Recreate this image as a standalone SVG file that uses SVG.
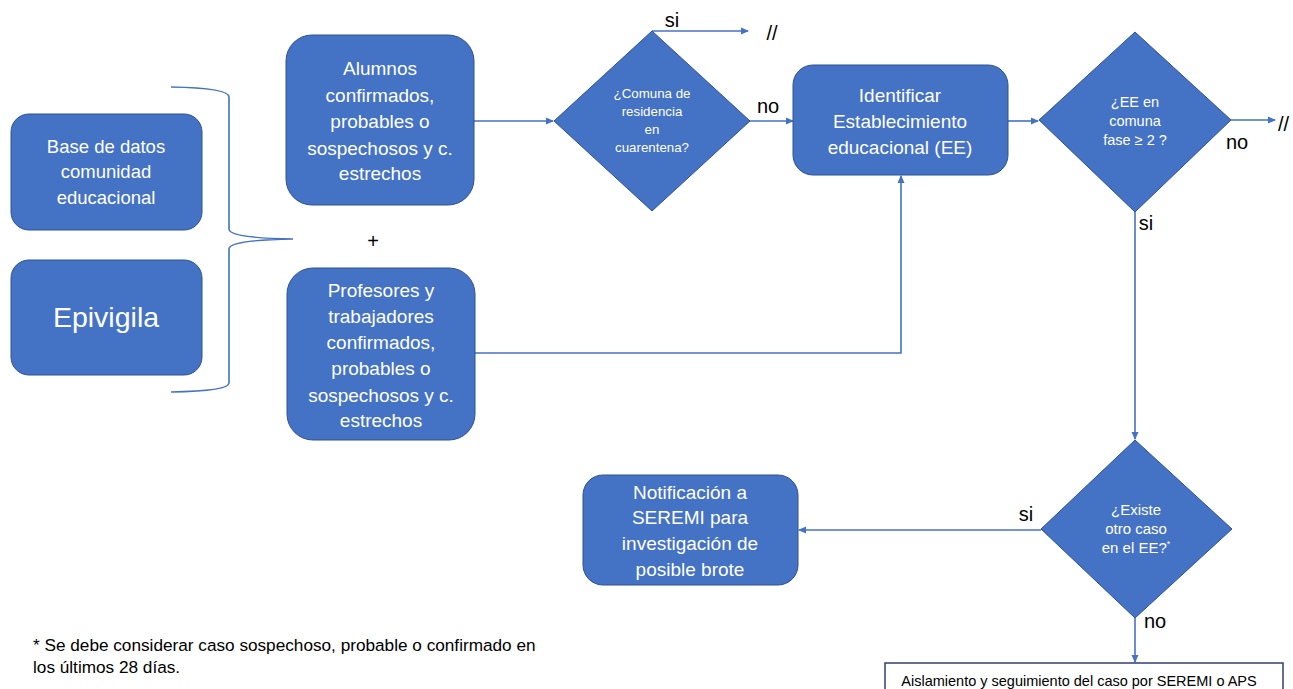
<svg xmlns="http://www.w3.org/2000/svg" width="1293" height="689" viewBox="0 0 1293 689">
<defs>
<style>
.box{fill:#4472c4;stroke:#2f528f;stroke-width:1}
.bt{font-family:"Liberation Sans",Arial,sans-serif;fill:#fff;text-anchor:middle}
.lbl{font-family:"Liberation Sans",Arial,sans-serif;fill:#000;font-size:20px}
.con{fill:none;stroke:#4472c4;stroke-width:1.6}
.note{font-family:"Liberation Sans",Arial,sans-serif;fill:#000;font-size:17.2px}
</style>
<marker id="ah" markerWidth="8" markerHeight="8" refX="7" refY="4" orient="auto" markerUnits="userSpaceOnUse">
<path d="M0,0.5 L8,4 L0,7.5 Z" fill="#4472c4"/>
</marker>
</defs>
<rect width="1293" height="689" fill="#fff"/>

<g id="connectors">
<path class="con" d="M171,87 Q229,88 229,97 V229 Q229,238 293,239 Q229,240 229,249 V383 Q229,391 171,392"/>
<path class="con" d="M474,121 H553" marker-end="url(#ah)"/>
<path class="con" d="M652,31 H748" marker-end="url(#ah)"/>
<path class="con" d="M750,121 H793" marker-end="url(#ah)"/>
<path class="con" d="M475,353 H901 V176" marker-end="url(#ah)"/>
<path class="con" d="M1008,121 H1038" marker-end="url(#ah)"/>
<path class="con" d="M1231,120 H1275" marker-end="url(#ah)"/>
<path class="con" d="M1135,212 V439" marker-end="url(#ah)"/>
<path class="con" d="M1041,530 H799" marker-end="url(#ah)"/>
<path class="con" d="M1135,618 V662" marker-end="url(#ah)"/>
</g>

<g id="labels">
<text class="lbl" x="672" y="20" dy="0.35em" text-anchor="middle">si</text>
<text class="lbl" x="772" y="33" dy="0.35em" text-anchor="middle" font-size="23">//</text>
<text class="lbl" x="768" y="106" dy="0.35em" text-anchor="middle">no</text>
<text class="lbl" x="1237" y="142" dy="0.35em" text-anchor="middle">no</text>
<text class="lbl" x="1278" y="124" dy="0.35em" font-size="23">//</text>
<text class="lbl" x="1146" y="223" dy="0.35em" text-anchor="middle">si</text>
<text class="lbl" x="1026" y="514" dy="0.35em" text-anchor="middle">si</text>
<text class="lbl" x="1155" y="621" dy="0.35em" text-anchor="middle">no</text>
<text class="lbl" x="373" y="241" dy="0.35em" text-anchor="middle" font-size="16">+</text>
</g>

<g id="base-datos">
<rect class="box" x="11" y="114" width="191" height="116" rx="18"/>
<text class="bt" font-size="18.5"><tspan x="106" y="147" dy="0.35em">Base de datos</tspan><tspan x="106" y="172" dy="0.35em">comunidad</tspan><tspan x="106" y="198" dy="0.35em">educacional</tspan></text>
</g>

<g id="epivigila">
<rect class="box" x="11" y="260" width="191" height="115" rx="18"/>
<text class="bt" font-size="28.5" x="106" y="317" dy="0.35em">Epivigila</text>
</g>

<g id="alumnos">
<rect class="box" x="286" y="35" width="188" height="170" rx="26"/>
<text class="bt" font-size="19"><tspan x="380" y="68" dy="0.35em">Alumnos</tspan><tspan x="380" y="95" dy="0.35em">confirmados,</tspan><tspan x="380" y="121" dy="0.35em">probables o</tspan><tspan x="380" y="148" dy="0.35em">sospechosos y c.</tspan><tspan x="380" y="173" dy="0.35em">estrechos</tspan></text>
</g>

<g id="profesores">
<rect class="box" x="287" y="268" width="188" height="172" rx="26"/>
<text class="bt" font-size="19"><tspan x="381" y="290" dy="0.35em">Profesores y</tspan><tspan x="381" y="316" dy="0.35em">trabajadores</tspan><tspan x="381" y="342" dy="0.35em">confirmados,</tspan><tspan x="381" y="368" dy="0.35em">probables o</tspan><tspan x="381" y="395" dy="0.35em">sospechosos y c.</tspan><tspan x="381" y="420" dy="0.35em">estrechos</tspan></text>
</g>

<g id="diamond-cuarentena">
<polygon class="box" points="652,31 750,121 652,211 554,121"/>
<text class="bt" font-size="13.3"><tspan x="652" y="93" dy="0.35em">¿Comuna de</tspan><tspan x="652" y="111" dy="0.35em">residencia</tspan><tspan x="652" y="129" dy="0.35em">en</tspan><tspan x="652" y="147" dy="0.35em">cuarentena?</tspan></text>
</g>

<g id="identificar">
<rect class="box" x="793" y="65" width="215" height="110" rx="20"/>
<text class="bt" font-size="19"><tspan x="900" y="95" dy="0.35em">Identificar</tspan><tspan x="900" y="121" dy="0.35em">Establecimiento</tspan><tspan x="900" y="147" dy="0.35em">educacional (EE)</tspan></text>
</g>

<g id="diamond-fase">
<polygon class="box" points="1135,32 1231,120 1135,212 1039,120"/>
<text class="bt" font-size="14.5"><tspan x="1135" y="102" dy="0.35em">¿EE en</tspan><tspan x="1135" y="121" dy="0.35em">comuna</tspan><tspan x="1135" y="140" dy="0.35em">fase ≥ 2 ?</tspan></text>
</g>

<g id="diamond-otro-caso">
<polygon class="box" points="1135,440 1232,529 1135,618 1041,529"/>
<text class="bt" font-size="15"><tspan x="1136" y="510" dy="0.35em">¿Existe</tspan><tspan x="1136" y="529" dy="0.35em">otro caso</tspan><tspan x="1136" y="548" dy="0.35em">en el EE?<tspan font-size="9" dy="-6">*</tspan></tspan></text>
</g>

<g id="notificacion">
<rect class="box" x="583" y="475" width="215" height="110" rx="20"/>
<text class="bt" font-size="19"><tspan x="690" y="492" dy="0.35em">Notificación a</tspan><tspan x="690" y="517" dy="0.35em">SEREMI para</tspan><tspan x="690" y="543" dy="0.35em">investigación de</tspan><tspan x="690" y="569" dy="0.35em">posible brote</tspan></text>
</g>

<g id="aislamiento">
<rect x="885" y="663" width="398" height="40" fill="#fff" stroke="#2f3f6f" stroke-width="1.5"/>
<text x="1079" y="681" dy="0.35em" text-anchor="middle" font-family="Liberation Sans, Arial, sans-serif" font-size="14.5" fill="#000">Aislamiento y seguimiento del caso por SEREMI o APS</text>
</g>

<g id="footnote">
<text class="note" x="33" y="645" dy="0.35em">* Se debe considerar caso sospechoso, probable o confirmado en</text>
<text class="note" x="33" y="667" dy="0.35em">los últimos 28 días.</text>
</g>
</svg>
